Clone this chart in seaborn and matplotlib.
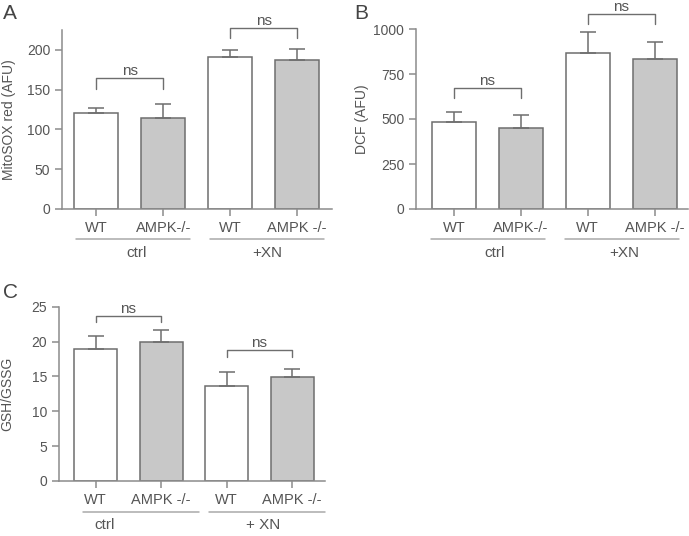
import numpy as np
import pandas as pd
import matplotlib
matplotlib.use("Agg")
import matplotlib.pyplot as plt
import seaborn as sns

sns.set_style("white")
plt.rcParams['font.family'] = ['Liberation Sans', 'DejaVu Sans']

# data
groups = ["WT ctrl", "AMPK ctrl", "WT XN", "AMPK XN"]
mito_mean = [120.5, 114.5, 190.8, 187.4]
mito_err = [6.2, 17.2, 9.2, 13.5]
dcf_mean = [486, 449, 868, 836]
dcf_err = [54, 72, 117, 93]
gsh_mean = [18.9, 19.9, 13.6, 14.9]
gsh_err = [1.9, 1.8, 2.1, 1.1]

labels_ab = ["WT", "AMPK-/-", "WT", "AMPK -/-"]
labels_c = ["WT", "AMPK -/-", "WT", "AMPK -/-"]
bar_colors = ["white", "#c8c8c8", "white", "#c8c8c8"]

TXT = "#555555"
EDGE = "#6e6e6e"
SPINE = "#8c8c8c"

W, H = 689, 536
fig = plt.figure(figsize=(W / 100, H / 100), dpi=100)


def px_axes(x0, x1, ytop, ybot):
    return fig.add_axes([x0 / W, 1 - ybot / H, (x1 - x0) / W, (ybot - ytop) / H])


def panel(ax, means, errs, ticklabels, xlim, ylim, yticks, ylabel, label_x,
          brackets, group_lines, group_names, line_y, name_y):
    df = pd.DataFrame({"group": groups, "value": means})
    sns.barplot(data=df, x="group", y="value", hue="group", palette=bar_colors,
                legend=False, width=0.66, edgecolor=EDGE, linewidth=1.1, ax=ax)
    ax.errorbar(range(4), means, yerr=[np.zeros(4), errs], fmt="none",
                ecolor=EDGE, elinewidth=1.1, capsize=5.5, capthick=1.1, zorder=1)
    ax.set_xlim(*xlim)
    ax.set_ylim(*ylim)
    ax.set_yticks(yticks)
    ax.set_xticks(range(4))
    ax.set_xticklabels(ticklabels)
    ax.set_xlabel("")
    ax.set_ylabel(ylabel, color=TXT, fontsize=10)
    # place the y label by its right edge, in figure pixels
    bbox = ax.get_position()
    ax.yaxis.set_label_coords((label_x / W - bbox.x0) / bbox.width, 0.5)
    for s in ["top", "right"]:
        ax.spines[s].set_visible(False)
    for s in ["left", "bottom"]:
        ax.spines[s].set_color(SPINE)
        ax.spines[s].set_linewidth(1.1)
    ax.tick_params(axis="both", colors=SPINE, labelcolor=TXT, labelsize=10,
                   length=5, width=1.1, direction="out", bottom=True, left=True)
    ax.tick_params(axis="x", pad=4, labelsize=10.5)
    # ns brackets
    for (i, j, top, drop) in brackets:
        ax.plot([i, i, j, j], [drop, top, top, drop], color=EDGE, lw=1.0,
                clip_on=False)
        ax.text((i + j) / 2, top, "ns", ha="center", va="bottom", color=TXT,
                fontsize=11)
    # group underlines and names (axes fraction in y)
    for (a, b, cx), name in zip(group_lines, group_names):
        ax.plot([a, b], [line_y, line_y], color="#aaaaaa", lw=1.1,
                transform=ax.get_xaxis_transform(), clip_on=False)
        ax.text(cx, name_y, name, ha="center", va="top", color=TXT, fontsize=11,
                transform=ax.get_xaxis_transform())


# Panel A
axA = px_axes(62, 332, 30, 209)
panel(axA, mito_mean, mito_err, labels_ab, (-0.51, 3.52), (0, 225),
      [0, 50, 100, 150, 200], "MitoSOX red (AFU)", 16,
      [(0, 1, 164.4, 151), (2, 3, 227, 214.7)],
      [(-0.3, 1.4, 0.6), (1.7, 3.4, 2.55)], ["ctrl", "+XN"], -0.165, -0.205)

# Panel B
axB = px_axes(416, 688, 29, 209)
panel(axB, dcf_mean, dcf_err, labels_ab, (-0.57, 3.5), (0, 1000),
      [0, 250, 500, 750, 1000], "DCF (AFU)", 369,
      [(0, 1, 675, 616), (2, 3, 1081, 1028)],
      [(-0.34, 1.36, 0.6), (1.66, 3.36, 2.55)], ["ctrl", "+XN"], -0.165, -0.205)

# Panel C
axC = px_axes(59, 325, 306.7, 481)
panel(axC, gsh_mean, gsh_err, labels_c, (-0.56, 3.5), (0, 25),
      [0, 5, 10, 15, 20, 25], "GSH/GSSG", 14,
      [(0, 1, 23.67, 22.85), (2, 3, 18.8, 17.74)],
      [(-0.2, 1.58, 0.14), (1.73, 3.5, 2.55)], ["ctrl", "+ XN"], -0.18, -0.215)

for letter, (x, y) in zip("ABC", [(3, 4), (354, 4), (3, 283)]):
    fig.text(x / W, 1 - y / H, letter, ha="left", va="top", color="#444444",
             fontsize=15)

fig.savefig("out.png", dpi=100)
